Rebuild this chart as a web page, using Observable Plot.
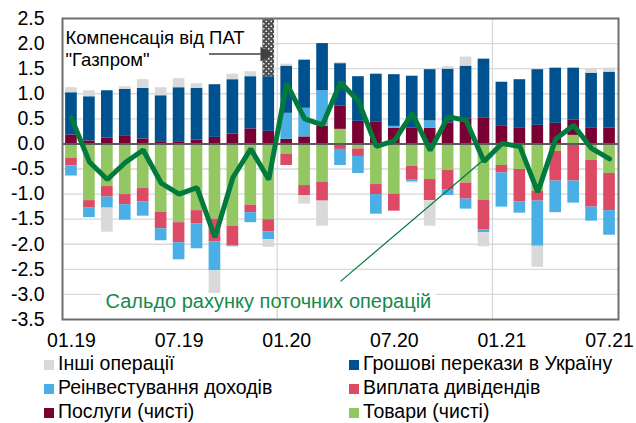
<!DOCTYPE html>
<html><head><meta charset="utf-8">
<script src="https://cdn.jsdelivr.net/npm/d3@7"></script>
<script src="https://cdn.jsdelivr.net/npm/@observablehq/plot@0.6"></script>
<style>
body{margin:0;background:#fff;font-family:"Liberation Sans",Arial,sans-serif;}
#wrap{position:relative;width:636px;height:423px;overflow:hidden;background:#fff;}
#chart{position:absolute;left:0;top:0;}
.leg{position:absolute;font-size:19.5px;line-height:22px;white-space:nowrap;color:#000;}
.sw{display:inline-block;width:10px;height:10px;margin-right:4px;vertical-align:0px;}
</style></head><body>
<div id="wrap">
<div id="chart"></div>
<div id="legend"></div>
</div>
<script>
// ---- data ----
const months = ["01.19","02.19","03.19","04.19","05.19","06.19","07.19","08.19","09.19","10.19","11.19","12.19",
  "01.20","02.20","03.20","04.20","05.20","06.20","07.20","08.20","09.20","10.20","11.20","12.20",
  "01.21","02.21","03.21","04.21","05.21","06.21","07.21"];
const seriesNames = ["Товари (чисті)","Послуги (чисті)","Виплата дивідендів","Реінвестування доходів","Грошові перекази в Україну","Інші операції"];
const seriesColors = ["#93c762","#7a0033","#dc4a66","#4aafe4","#00528e","#d9d9d9"];
const goods = [-0.29,-1.13,-0.85,-1.01,-0.89,-1.36,-1.57,-1.33,-1.50,-1.64,-1.22,-1.51,-0.21,-0.83,-0.76,0.29,-0.10,-0.81,-1.00,-0.45,-0.71,-0.53,-0.78,-1.12,-0.43,-0.51,-0.94,-0.15,0.17,-0.33,-0.59];
const services = [0.18,0.06,0.12,0.15,0.10,0.03,0.03,0.08,0.13,0.20,0.30,0.25,0.09,0.14,0.35,0.47,0.45,0.43,0.31,0.32,0.31,0.42,0.50,0.51,0.35,0.31,0.37,0.41,0.31,0.31,0.32];
const dividends = [-0.15,-0.15,-0.21,-0.20,-0.27,-0.33,-0.40,-0.26,-0.45,-0.39,-0.15,-0.24,-0.22,-0.20,-0.38,-0.11,-0.15,-0.20,-0.34,-0.26,-0.42,-0.38,-0.32,-0.59,-0.15,-0.65,-0.20,-0.59,-0.74,-0.93,-0.74];
const reinvest = [-0.20,-0.19,-0.22,-0.31,-0.28,-0.24,-0.34,-0.50,-0.58,-0.02,-0.20,-0.16,0.52,0.57,0.71,-0.32,-0.34,-0.39,0.04,-0.05,0.15,-0.12,-0.20,-0.06,-0.68,-0.22,-0.90,-0.63,-0.44,-0.28,-0.49];
const remittances = [0.84,0.88,0.94,0.94,1.01,0.93,1.09,1.03,1.05,1.08,1.04,1.09,0.94,0.96,0.94,0.84,0.89,0.96,1.03,1.03,1.02,1.07,1.05,1.18,0.88,0.97,1.11,1.10,1.03,1.10,1.11];
const other = [0.10,0.12,-0.48,0.05,0.17,0.16,0.18,0.09,-0.45,0.11,0.10,-0.15,0.04,-0.17,-0.50,0.02,0,0,0,-0.02,-0.51,0.05,0.18,-0.28,0,0,-0.42,0,0,0.09,0.08];
const currentAccount = [0.52,-0.36,-0.71,-0.37,-0.12,-0.78,-1.00,-0.87,-1.86,-0.67,-0.10,-0.71,1.20,0.50,0.38,1.23,0.85,-0.05,0.06,0.61,-0.13,0.54,0.47,-0.35,0.01,-0.05,-0.96,0.10,0.37,-0.09,-0.30];
const gazpromMonth = "12.19";
const gazpromValue = 2.9;
const yTicks = [2.5,2,1.5,1,0.5,0,-0.5,-1,-1.5,-2,-2.5,-3,-3.5];
const xTickLabels = ["01.19","07.19","01.20","07.20","01.21","07.21"];
const yearStarts = ["01.20","01.21"];
const legendOrder = ["Інші операції","Грошові перекази в Україну","Реінвестування доходів","Виплата дивідендів","Послуги (чисті)","Товари (чисті)"];
const noteText = "Компенсація від ПАТ\n\"Газпром\"";
const caLabel = "Сальдо рахунку поточних операцій";
// annotation anchors (data units)
const noteArrow = {from: "09.19", to: gazpromMonth, y: 1.79};
const noteBoxBottom = 1.45;
const caLink = {x1: "04.20", y1: -2.74, x2: "12.20", y2: -0.31};
const caBox = ["03.19", "09.20", -2.84, -3.28];

// ---- build tables ----
const seriesValues = [goods, services, dividends, reinvest, remittances, other];
const table = [];
seriesNames.forEach((name, s) => months.forEach((m, i) => table.push({month: m, series: name, value: seriesValues[s][i]})));
const caTable = months.map((m, i) => ({month: m, value: currentAccount[i]}));
const gi = months.indexOf(gazpromMonth);
const gzBase = seriesValues.reduce((acc, arr) => acc + Math.max(0, arr[gi]), 0);
const gzTable = [{month: gazpromMonth, y1: gzBase, y2: gzBase + gazpromValue}];
const lineGreen = "#007a3d";
const textGreen = "#148a4c";

const decor = (index, scales, values, dims) => {
  const {x, y} = scales;
  const g = d3.create("svg:g");
  const gap = (x.step() - x.bandwidth()) / 2;
  g.append("rect").attr("x", dims.marginLeft).attr("y", y(2.5))
    .attr("width", x(gazpromMonth) - dims.marginLeft).attr("height", y(noteBoxBottom) - y(2.5)).attr("fill", "#fff");
  g.append("rect").attr("x", x(caBox[0])).attr("y", y(caBox[2]))
    .attr("width", x(caBox[1]) + x.bandwidth() - x(caBox[0])).attr("height", y(caBox[3]) - y(caBox[2])).attr("fill", "#fff");
  for (const m of yearStarts) {
    g.append("line").attr("x1", x(m) - gap).attr("x2", x(m) - gap)
      .attr("y1", y(2.5)).attr("y2", y(-3.5)).attr("stroke", "#d3d8db").attr("stroke-width", 1.2);
  }
  return g.node();
};

const chart = Plot.plot({
  width: 636,
  height: 350,
  marginLeft: 62,
  marginRight: 18,
  marginTop: 18,
  marginBottom: 31,
  style: {fontFamily: "'Liberation Sans', Arial, sans-serif", fontSize: "19.5px", color: "#000", background: "#fff", overflow: "visible"},
  x: {domain: months, paddingInner: 0.35, paddingOuter: 0.175, round: false, tickSize: 0, tickPadding: 14, label: null,
      tickFormat: d => xTickLabels.includes(d) ? d : ""},
  y: {domain: [-3.5, 2.5], ticks: yTicks, tickSize: 0, tickPadding: 18, label: null, tickFormat: d => d.toFixed(1)},
  color: {domain: seriesNames, range: seriesColors},
  marks: [
    Plot.ruleY(yTicks.filter(d => d !== 0 && d !== 2.5 && d !== -3.5), {stroke: "#d9d9d9", strokeWidth: 1.3}),
    decor,
    Plot.barY(table, {x: "month", y: "value", fill: "series"}),
    Plot.barY(gzTable, {x: "month", y1: "y1", y2: "y2", fill: "#4b4b4b", clip: true}),
    Plot.ruleY([0], {stroke: "#5a5a5a", strokeWidth: 2}),
    Plot.link([caLink], {x1: "x1", y1: "y1", x2: "x2", y2: "y2", stroke: lineGreen, strokeWidth: 1.2}),
    Plot.lineY(caTable, {x: "month", y: "value", stroke: lineGreen, strokeWidth: 5, strokeLinejoin: "miter"}),
    Plot.link([noteArrow], {x1: "from", x2: "to", y1: "y", y2: "y", stroke: "#404040", strokeWidth: 1.5, dx: -6}),
    Plot.dot([noteArrow], {x: "to", y: "y", symbol: "triangle", rotate: 90, r: 5.5, fill: "#404040", dx: -4}),
    Plot.text([noteText], {frameAnchor: "top-left", textAnchor: "start", lineAnchor: "top", dx: 3, dy: 10, lineHeight: 1.18, fontSize: 18.5, fill: "#000"}),
    Plot.text([caLabel], {frameAnchor: "bottom-left", textAnchor: "start", lineAnchor: "middle", dx: 43, dy: -18, fontSize: 20, fill: textGreen}),
    Plot.frame({stroke: "#6e6e6e", strokeWidth: 2})
  ]
});

// pattern for the Gazprom compensation bar
const svg = d3.select(chart.tagName.toLowerCase() === "svg" ? chart : chart.querySelector("svg"));
const defs = svg.insert("defs", ":first-child");
const pat = defs.append("pattern").attr("id", "gzPattern").attr("patternUnits", "userSpaceOnUse").attr("width", 5).attr("height", 5);
pat.append("rect").attr("width", 5).attr("height", 5).attr("fill", "#505050");
pat.append("circle").attr("cx", 1.25).attr("cy", 1.25).attr("r", 0.85).attr("fill", "#fff");
pat.append("circle").attr("cx", 3.75).attr("cy", 3.75).attr("r", 0.85).attr("fill", "#fff");
svg.selectAll('[fill="#4b4b4b"]').filter(function() { return this.closest("pattern") === null; }).attr("fill", "url(#gzPattern)");
document.getElementById("chart").appendChild(chart);

// legend
const leg = document.getElementById("legend");
const colX = [44, 349];
const rowTop = [351.5, 375.5, 399.5];
legendOrder.forEach((name, k) => {
  const d = document.createElement("div");
  d.className = "leg";
  d.style.left = colX[k % 2] + "px";
  d.style.top = rowTop[Math.floor(k / 2)] + "px";
  const sw = document.createElement("span");
  sw.className = "sw";
  sw.style.background = seriesColors[seriesNames.indexOf(name)];
  d.appendChild(sw);
  d.appendChild(document.createTextNode(name));
  leg.appendChild(d);
});
</script>
</body></html>
